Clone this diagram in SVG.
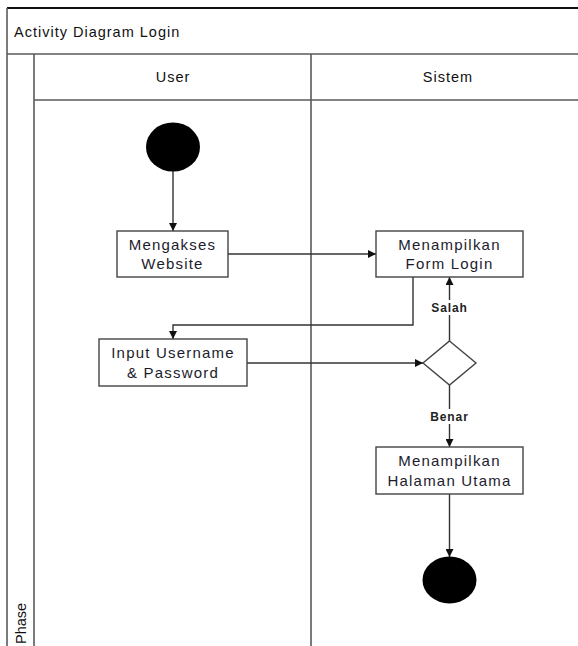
<svg xmlns="http://www.w3.org/2000/svg" width="578" height="646" viewBox="0 0 578 646">
  <style>
    .lane { stroke: #5a5a5a; stroke-width: 1.6; fill: none; }
    .frame { stroke: #111; stroke-width: 2; fill: none; }
    .box { fill: #fff; stroke: #444; stroke-width: 1.4; }
    .flow { stroke: #333; stroke-width: 1.4; fill: none; }
    .txt { font-family: "Liberation Sans", Arial, sans-serif; font-size: 15px; fill: #1c1c2c; text-anchor: middle; letter-spacing: 1.2px; }
    .hdr { font-family: "Liberation Sans", Arial, sans-serif; font-size: 14.5px; fill: #111; letter-spacing: 1px; }
    .guard { font-family: "Liberation Sans", Arial, sans-serif; font-size: 12px; font-weight: bold; fill: #222; text-anchor: middle; letter-spacing: 0.9px; }
  </style>
  <defs>
    <marker id="arrow" viewBox="0 0 10 10" refX="10" refY="5" markerWidth="8" markerHeight="8" markerUnits="userSpaceOnUse" orient="auto">
      <path d="M0,0 L10,5 L0,10 z" fill="#111"/>
    </marker>
  </defs>
  <rect width="578" height="646" fill="#fff"/>

  <!-- swimlane frame -->
  <g id="frame">
    <line class="frame" x1="7" y1="8" x2="578" y2="8"/>
    <line class="lane" x1="7" y1="8" x2="7" y2="646"/>
    <line class="lane" x1="7" y1="54" x2="578" y2="54"/>
    <line class="lane" x1="34" y1="54" x2="34" y2="646"/>
    <line class="lane" x1="34" y1="100" x2="578" y2="100"/>
    <line class="lane" x1="311" y1="54" x2="311" y2="646"/>
    <text class="hdr" x="14" y="37">Activity Diagram Login</text>
    <text class="hdr" x="173" y="82" text-anchor="middle">User</text>
    <text class="hdr" x="448" y="82" text-anchor="middle">Sistem</text>
    <text class="hdr" transform="translate(26,644) rotate(-90)" style="letter-spacing:0">Phase</text>
  </g>

  <!-- connectors -->
  <g id="connectors">
    <line class="flow" x1="173" y1="170" x2="173" y2="231" marker-end="url(#arrow)"/>
    <line class="flow" x1="228" y1="254" x2="376" y2="254" marker-end="url(#arrow)"/>
    <polyline class="flow" points="413,277 413,325 173,325 173,339" marker-end="url(#arrow)"/>
    <line class="flow" x1="247" y1="363" x2="423" y2="363" marker-end="url(#arrow)"/>
    <line class="flow" x1="449.5" y1="341" x2="449.5" y2="277" marker-end="url(#arrow)"/>
    <line class="flow" x1="449.5" y1="385" x2="449.5" y2="447" marker-end="url(#arrow)"/>
    <line class="flow" x1="449.5" y1="494" x2="449.5" y2="557" marker-end="url(#arrow)"/>
    <rect x="428" y="300" width="43" height="15" fill="#fff"/>
    <text class="guard" x="449.5" y="312">Salah</text>
    <rect x="426" y="409" width="47" height="15" fill="#fff"/>
    <text class="guard" x="449.5" y="421">Benar</text>
  </g>

  <g id="start">
    <ellipse cx="173" cy="147" rx="27" ry="24.5" fill="#000"/>
  </g>

  <g id="mengakses-website">
    <rect class="box" x="117" y="231" width="111" height="46"/>
    <text class="txt" x="172.5" y="250">Mengakses</text>
    <text class="txt" x="172.5" y="269">Website</text>
  </g>

  <g id="menampilkan-form-login">
    <rect class="box" x="376" y="231" width="147" height="46"/>
    <text class="txt" x="449.5" y="250">Menampilkan</text>
    <text class="txt" x="449.5" y="269">Form Login</text>
  </g>

  <g id="input-username-password">
    <rect class="box" x="99" y="339" width="148" height="47"/>
    <text class="txt" x="173" y="358">Input Username</text>
    <text class="txt" x="173" y="378">&amp; Password</text>
  </g>

  <g id="decision">
    <polygon class="box" points="449.5,341 476,363 449.5,385 423,363"/>
  </g>

  <g id="menampilkan-halaman-utama">
    <rect class="box" x="376" y="447" width="147" height="47"/>
    <text class="txt" x="449.5" y="466">Menampilkan</text>
    <text class="txt" x="449.5" y="486">Halaman Utama</text>
  </g>

  <g id="end">
    <ellipse cx="449.5" cy="580" rx="27" ry="23.5" fill="#000"/>
  </g>
</svg>
